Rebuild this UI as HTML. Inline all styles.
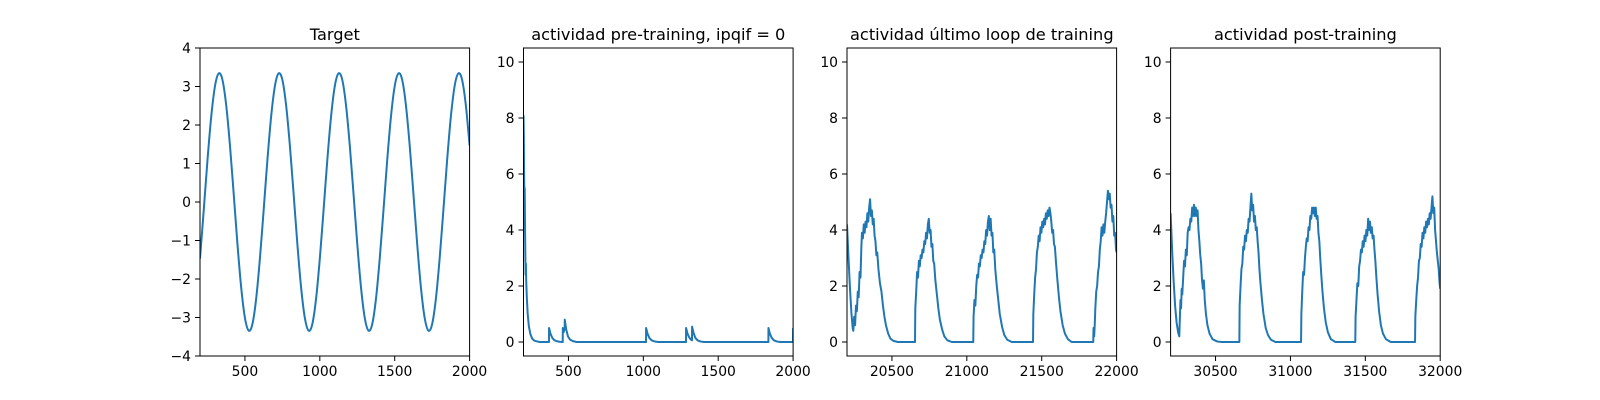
<!DOCTYPE html>
<html><head><meta charset="utf-8"><style>
html,body{margin:0;padding:0;background:#fff;}
svg{display:block;font-family:"DejaVu Sans","Liberation Sans",sans-serif;}
</style></head>
<body>
<svg id="fig" width="1600" height="400" viewBox="0 0 1600 400" xmlns="http://www.w3.org/2000/svg"></svg>
<script>
// ---- Panel 1: Target ----
const targetCycle = [-1.47,-0.21,1.09,2.22,3.01,3.34,3.17,2.51,1.47,0.21,-1.09,-2.22,-3.01,-3.34,-3.17,-2.51];
const targetX = [200,225,250,275,300,325,350,375,400,425,450,475,500,525,550,575,600,625,650,675,700,725,750,775,800,825,850,875,900,925,950,975,1000,1025,1050,1075,1100,1125,1150,1175,1200,1225,1250,1275,1300,1325,1350,1375,1400,1425,1450,1475,1500,1525,1550,1575,1600,1625,1650,1675,1700,1725,1750,1775,1800,1825,1850,1875,1900,1925,1950,1975,2000];
const targetY = [-1.47,-0.21,1.09,2.22,3.01,3.34,3.17,2.51,1.47,0.21,-1.09,-2.22,-3.01,-3.34,-3.17,-2.51,
 -1.47,-0.21,1.09,2.22,3.01,3.34,3.17,2.51,1.47,0.21,-1.09,-2.22,-3.01,-3.34,-3.17,-2.51,
 -1.47,-0.21,1.09,2.22,3.01,3.34,3.17,2.51,1.47,0.21,-1.09,-2.22,-3.01,-3.34,-3.17,-2.51,
 -1.47,-0.21,1.09,2.22,3.01,3.34,3.17,2.51,1.47,0.21,-1.09,-2.22,-3.01,-3.34,-3.17,-2.51,
 -1.47,-0.21,1.09,2.22,3.01,3.34,3.17,2.51,1.47];
const targetXTicks = [500,1000,1500,2000];
const targetYTicks = [-4,-3,-2,-1,0,1,2,3,4];

// ---- Panel 2: pre-training ----
const preX = [200,202,204,206,208,210,212,214,216,218,222,228,236,246,258,272,290,310,370,370.5,380,392,405,420,440,462,462.5,468,475,475.5,485,497,512,530,555,1018,1018.5,1028,1040,1055,1075,1100,1285,1285.5,1295,1305,1315,1325,1325.5,1335,1347,1362,1380,1405,1835,1835.5,1845,1857,1872,1890,1915,1999,2000];
const preY = [8.1,7.4,6.0,5.2,5.5,4.2,3.2,2.4,2.8,2.2,1.6,1.0,0.55,0.28,0.12,0.05,0.02,0.0,0.0,0.5,0.3,0.15,0.07,0.03,0.01,0.0,0.5,0.35,0.5,0.8,0.45,0.2,0.08,0.03,0.0,0.0,0.5,0.3,0.15,0.06,0.02,0.0,0.0,0.5,0.3,0.18,0.1,0.06,0.55,0.33,0.15,0.06,0.02,0.0,0.0,0.5,0.3,0.15,0.06,0.02,0.0,0.0,0.5];
const preXTicks = [500,1000,1500,2000];
const actYTicks = [0,2,4,6,8,10];

// ---- Panel 3: last training loop ----
const lastX = [20200,20210,20220,20230,20238,20242,20248,20254,20260,20266,20272,20278,20284,20290,20296,20300,20306,20312,20318,20324,20330,20336,20342,20348,20354,20360,20366,20372,20378,20384,20390,20396,20402,20410,20420,20430,20440,20450,20460,20475,20490,20510,20540,20654,20656,20662,20668,20674,20680,20686,20692,20698,20704,20710,20716,20722,20728,20734,20740,20746,20752,20758,20764,20770,20776,20782,20790,20800,20810,20820,20835,20850,20870,20900,21043,21045,21051,21057,21063,21069,21075,21081,21087,21093,21099,21105,21111,21117,21123,21129,21135,21141,21147,21153,21159,21165,21171,21177,21183,21190,21200,21210,21220,21235,21250,21270,21300,21442,21444,21450,21456,21462,21468,21474,21480,21486,21492,21498,21504,21510,21516,21522,21528,21534,21540,21546,21552,21558,21564,21570,21576,21582,21588,21596,21605,21615,21625,21640,21655,21675,21700,21844,21846,21850,21854,21858,21864,21870,21876,21882,21888,21894,21900,21906,21912,21918,21924,21930,21936,21942,21948,21954,21960,21966,21972,21978,21984,21990,21996,22000];
const lastY = [4.2,3.0,1.9,1.0,0.5,0.4,0.9,0.6,1.3,1.1,1.8,1.6,2.5,2.3,3.4,3.9,3.7,4.2,3.9,4.3,4.1,4.6,4.3,4.8,5.1,4.5,4.7,4.2,4.4,3.8,3.6,3.1,3.2,2.6,2.1,1.8,1.3,0.9,0.6,0.3,0.12,0.04,0.0,0.0,1.2,1.8,2.5,2.3,2.9,2.7,3.1,3.0,3.3,3.2,3.6,3.5,3.9,3.7,4.2,4.4,3.9,4.0,3.4,3.5,2.9,2.8,2.2,1.7,1.2,0.8,0.45,0.2,0.06,0.0,0.0,0.9,1.5,1.3,2.0,2.4,2.3,2.8,2.7,3.1,3.0,3.3,3.2,3.6,3.5,4.0,3.8,4.3,4.5,4.0,4.4,3.8,3.9,3.2,3.3,2.6,2.0,1.5,1.0,0.55,0.25,0.08,0.0,0.0,1.0,1.7,2.3,2.6,3.2,3.4,3.8,3.6,4.1,3.9,4.3,4.1,4.4,4.2,4.6,4.4,4.7,4.5,4.8,4.6,4.3,3.9,4.0,3.5,3.4,2.8,2.2,1.6,1.1,0.6,0.3,0.1,0.0,0.0,0.5,0.2,0.6,1.2,1.8,2.0,2.5,2.7,3.3,3.6,4.1,3.8,4.2,3.9,4.3,4.6,5.0,5.4,5.1,5.3,4.8,4.9,4.3,4.5,3.8,3.9,3.3,3.2];
const lastXTicks = [20500,21000,21500,22000];

// ---- Panel 4: post-training ----
const postX = [30200,30210,30220,30230,30240,30250,30258,30262,30266,30270,30274,30278,30284,30290,30296,30302,30308,30314,30320,30326,30332,30338,30344,30350,30356,30362,30368,30374,30380,30386,30392,30398,30404,30410,30416,30422,30428,30436,30446,30460,30480,30510,30540,30659,30661,30667,30673,30679,30685,30691,30697,30703,30709,30715,30721,30727,30733,30739,30745,30751,30757,30763,30769,30775,30781,30787,30793,30800,30810,30820,30835,30850,30870,30900,31071,31073,31079,31085,31091,31097,31103,31109,31115,31121,31127,31133,31139,31145,31151,31157,31163,31169,31175,31181,31187,31193,31199,31206,31214,31224,31236,31250,31270,31300,31433,31435,31441,31447,31453,31459,31465,31471,31477,31483,31489,31495,31501,31507,31513,31519,31525,31531,31537,31543,31549,31555,31561,31567,31574,31582,31592,31604,31618,31638,31670,31832,31834,31840,31846,31852,31858,31864,31870,31876,31882,31888,31894,31900,31906,31912,31918,31924,31930,31936,31942,31948,31954,31960,31966,31972,31978,31984,31990,31996,32000];
const postY = [4.6,3.3,2.2,1.3,0.7,0.35,0.2,0.9,1.5,1.2,1.9,1.7,2.3,2.9,2.7,3.3,3.1,3.9,4.1,4.0,4.4,4.3,4.8,4.5,4.9,4.5,4.8,4.5,4.7,4.0,3.6,3.1,2.8,2.2,1.9,2.2,1.5,1.0,0.6,0.3,0.1,0.02,0.0,0.0,1.3,2.0,2.6,2.8,3.4,3.3,3.8,3.6,4.0,3.9,4.4,4.3,4.8,5.3,4.7,4.9,4.3,4.5,4.0,4.1,3.6,3.2,2.6,2.1,1.5,1.0,0.5,0.25,0.08,0.0,0.0,1.0,1.8,2.5,2.4,3.0,3.4,3.7,3.6,4.1,4.0,4.5,4.4,4.8,4.6,4.8,4.5,4.8,4.4,4.5,3.9,3.6,3.0,2.4,1.8,1.2,0.7,0.35,0.1,0.0,0.0,0.9,1.5,2.1,2.0,2.7,2.9,3.3,3.2,3.6,3.4,3.8,3.6,4.0,3.8,4.4,4.0,4.3,3.9,4.1,3.7,3.8,3.3,2.9,2.3,1.7,1.1,0.6,0.3,0.1,0.0,0.0,0.9,1.5,2.0,2.3,2.9,3.0,3.5,3.4,3.9,3.7,4.1,3.9,4.3,4.1,4.4,4.2,4.6,4.4,4.8,5.2,4.6,4.8,4.0,3.6,3.2,2.9,2.6,2.1,1.9];
const postXTicks = [30500,31000,31500,32000];

const NS = "http://www.w3.org/2000/svg";
const fig = document.getElementById('fig');
const AX_TOP = 48, AX_BOT = 356, AX_W = 269.6;
const LEFTS = [200, 523.5, 847, 1170.6];

function mk(tag, attrs, parent) {
  const e = document.createElementNS(NS, tag);
  for (const k in attrs) e.setAttribute(k, attrs[k]);
  parent.appendChild(e);
  return e;
}

function smoothPath(pts) {
  let d = 'M' + pts[0][0].toFixed(2) + ',' + pts[0][1].toFixed(2);
  for (let i = 0; i < pts.length - 1; i++) {
    const p0 = pts[Math.max(0, i - 1)], p1 = pts[i], p2 = pts[i + 1], p3 = pts[Math.min(pts.length - 1, i + 2)];
    const c1x = p1[0] + (p2[0] - p0[0]) / 6, c1y = p1[1] + (p2[1] - p0[1]) / 6;
    const c2x = p2[0] - (p3[0] - p1[0]) / 6, c2y = p2[1] - (p3[1] - p1[1]) / 6;
    d += 'C' + c1x.toFixed(2) + ',' + c1y.toFixed(2) + ' ' + c2x.toFixed(2) + ',' + c2y.toFixed(2) + ' ' + p2[0].toFixed(2) + ',' + p2[1].toFixed(2);
  }
  return d;
}

function panel(idx, name, title, xs, ys, xmin, xmax, ymin, ymax, xticks, yticks, smooth) {
  const L = LEFTS[idx];
  const g = mk('g', {}, fig);
  
  
  const sx = v => L + (v - xmin) / (xmax - xmin) * AX_W;
  const sy = v => AX_BOT - (v - ymin) / (ymax - ymin) * (AX_BOT - AX_TOP);

  const clipId = 'clip' + idx;
  const cp = mk('clipPath', {id: clipId}, g);
  mk('rect', {x: L, y: AX_TOP, width: AX_W, height: AX_BOT - AX_TOP}, cp);

  const pts = xs.map((x, i) => [sx(x), sy(ys[i])]);
  let d;
  if (smooth) d = smoothPath(pts);
  else d = 'M' + pts.map(p => p[0].toFixed(2) + ',' + p[1].toFixed(2)).join('L');
  const line = mk('path', {d: d, fill: 'none', stroke: '#1f77b4', 'stroke-width': 2, 'stroke-linejoin': 'round', 'clip-path': 'url(#' + clipId + ')'}, g);
  
  

  const frame = mk('rect', {x: L, y: AX_TOP, width: AX_W, height: AX_BOT - AX_TOP, fill: 'none', stroke: '#000', 'stroke-width': 1}, g);
  
  

  xticks.forEach(t => {
    const x = sx(t);
    mk('line', {x1: x, x2: x, y1: AX_BOT, y2: AX_BOT + 5, stroke: '#000', 'stroke-width': 1}, g);
    const tx = mk('text', {x: x, y: AX_BOT + 20, 'font-size': 13.9, 'text-anchor': 'middle', fill: '#000'}, g);
    tx.textContent = String(t);
    
    
  });
  yticks.forEach(t => {
    const y = sy(t);
    mk('line', {x1: L - 5, x2: L, y1: y, y2: y, stroke: '#000', 'stroke-width': 1}, g);
    const ty = mk('text', {x: L - 9, y: y + 5, 'font-size': 13.9, 'text-anchor': 'end', fill: '#000'}, g);
    ty.textContent = t < 0 ? '\u2212' + Math.abs(t) : String(t);
    
    
  });
  const tt = mk('text', {x: L + AX_W / 2, y: AX_TOP - 8, 'font-size': 16.2, 'text-anchor': 'middle', fill: '#000'}, g);
  tt.textContent = title;
  
  
}

panel(0, 'target-panel', 'Target', targetX, targetY, 200, 2000, -4, 4, targetXTicks, targetYTicks, true);
panel(1, 'pre-training-panel', 'actividad pre-training, ipqif = 0', preX, preY, 200, 2000, -0.5, 10.5, preXTicks, actYTicks, false);
panel(2, 'last-loop-panel', 'actividad último loop de training', lastX, lastY, 20200, 22000, -0.5, 10.5, lastXTicks, actYTicks, false);
panel(3, 'post-training-panel', 'actividad post-training', postX, postY, 30200, 32000, -0.5, 10.5, postXTicks, actYTicks, false);
</script>
</body></html>
